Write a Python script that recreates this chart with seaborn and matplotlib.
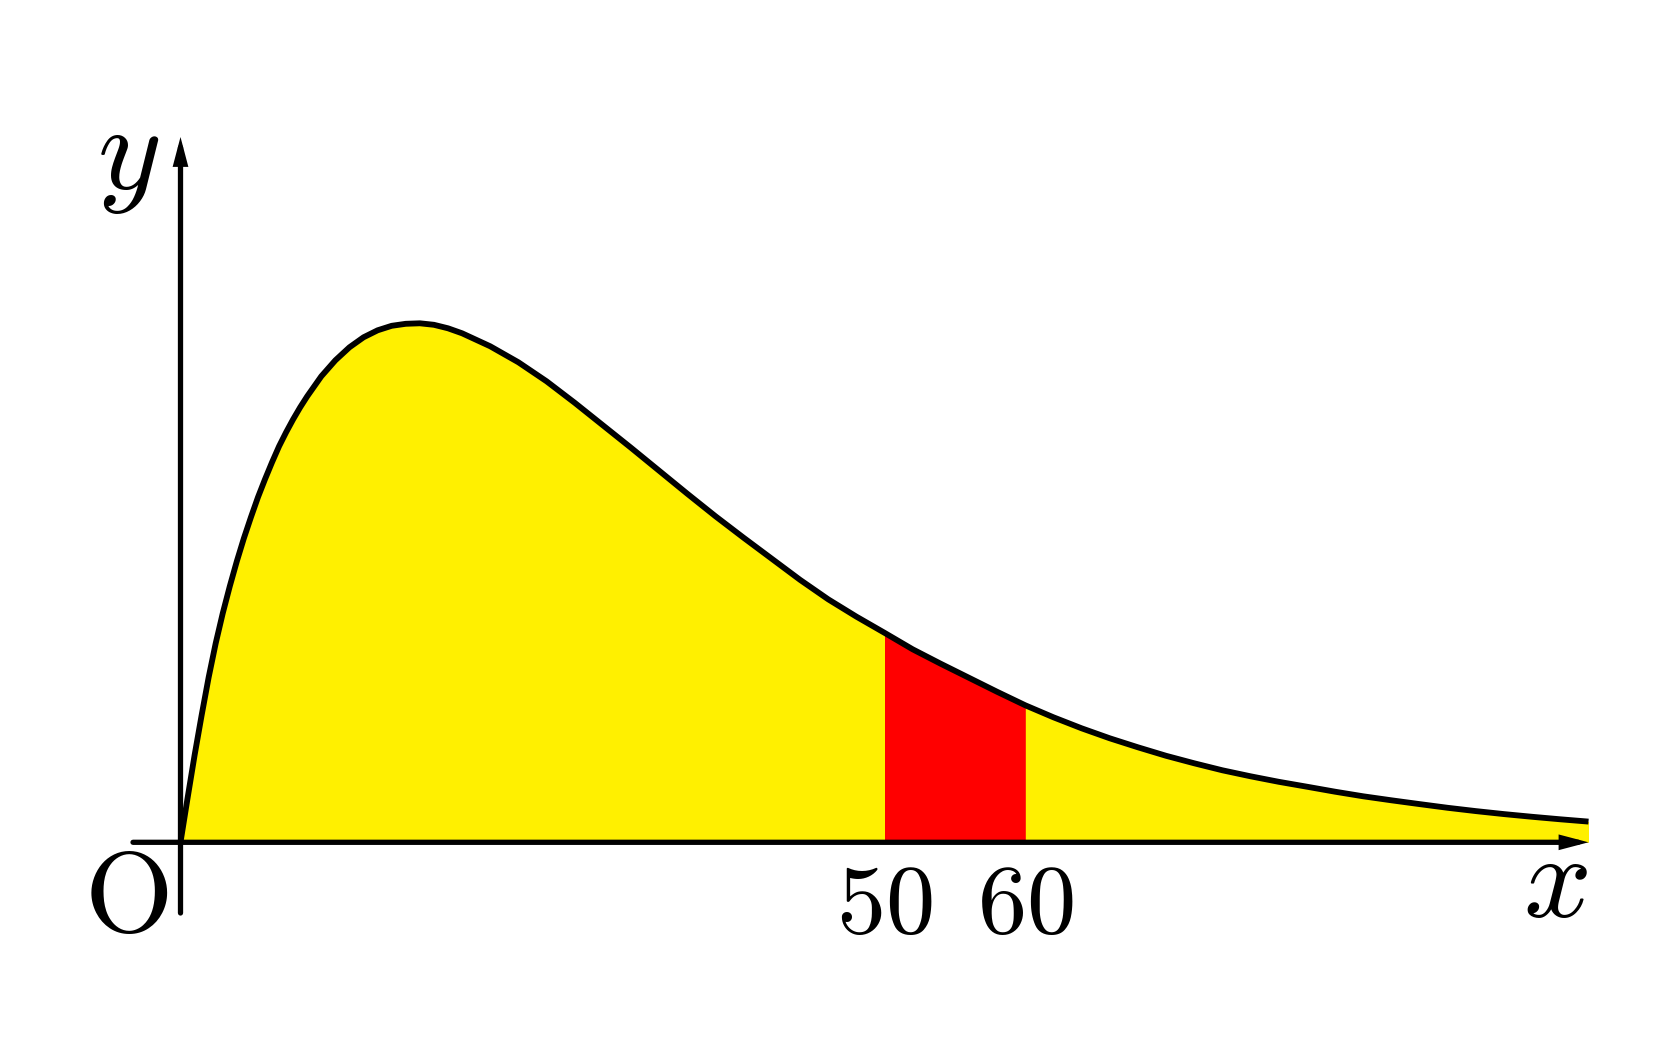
import numpy as np
import matplotlib
matplotlib.use('Agg')
import matplotlib.pyplot as plt
import seaborn as sns

# 曲线上读取的点（x：横轴刻度，y：曲线高度，图中像素单位）
x_vals = [0, 0.5, 1, 1.5, 2, 2.5, 3, 3.5, 4, 4.5, 5, 5.5, 6, 6.5, 7, 7.5, 8, 8.5, 9, 9.5,
          10, 11, 12, 13, 14, 15, 16, 17, 18, 19, 20,
          22, 24, 26, 28, 30, 32, 34, 36, 38, 40, 42, 44, 46, 48, 50,
          52, 54, 56, 58, 60, 62, 64, 66, 68, 70, 72, 74, 76, 78, 80,
          82, 84, 86, 88, 90, 92, 94, 96, 98, 100]
y_vals = [0, 44, 87, 127, 165, 199, 229, 256, 281, 304, 325, 345, 363, 380, 396, 410, 423, 435, 446, 456,
          466, 482, 495, 505, 512, 516.5, 518.5, 519, 517.5, 514, 509,
          496, 480, 461, 439.5, 417, 394.5, 371.5, 348.5, 326, 304.5, 283.5, 262.5, 243, 225.7, 209.5,
          193, 178.5, 164.5, 150.5, 137, 125, 114, 104, 95, 86.5, 79, 72, 66, 60.5, 55.6,
          50.6, 46, 42, 38.2, 34.5, 31.2, 28.2, 25.5, 23, 20.7]

# 红色区间与刻度
band = [50, 60]
tick_vals = [50, 60]
tick_labels = ['$50$', '$60$']

yellow = '#fff000'
red = '#ff0000'

sns.set_theme(style='white')
plt.rcParams['mathtext.fontset'] = 'cm'
plt.rcParams['font.family'] = ['DejaVu Sans']

fig = plt.figure(figsize=(16.54, 10.55), dpi=100)
ax = fig.add_axes([0, 0, 1, 1])

# 像素到数据坐标：原点在 (180.5, 842.3)，横轴每单位 14.08 像素
px_unit = 14.08
x0_px, y0_px = 180.5, 842.3
W, H = 1654, 1055
ax.set_xlim(-x0_px / px_unit, (W - x0_px) / px_unit)
ax.set_ylim(y0_px - H, y0_px)
ax.axis('off')

xs = np.array(x_vals, dtype=float)
ys = np.array(y_vals, dtype=float)

# 填充：整体黄色，50~60 红色
ax.fill_between(xs, 0, ys, color=yellow, lw=0, zorder=1)
mask = (xs >= band[0]) & (xs <= band[1])
ax.fill_between(xs[mask], 0, ys[mask], color=red, lw=0, zorder=2)

# 坐标轴（带箭头）
arrow = dict(arrowstyle='-|>,head_length=0.38,head_width=0.1', lw=3.8, color='black',
             shrinkA=0, shrinkB=0, mutation_scale=32, joinstyle='miter')
ax.annotate('', xy=(100, 0), xytext=(-47.5 / px_unit, 0), arrowprops=arrow, zorder=3)
ax.annotate('', xy=(0, y0_px - 137), xytext=(0, y0_px - 913), arrowprops=arrow, zorder=3)

# 曲线
sns.lineplot(x=xs, y=ys, ax=ax, color='black', lw=4.2, sort=False, estimator=None,
             zorder=4)
for ln in ax.lines:
    ln.set_solid_capstyle('butt')
    ln.set_solid_joinstyle('round')


def px_x(px):
    return (px - x0_px) / px_unit


def px_y(py):
    return y0_px - py


# 文字
ax.text(px_x(128), px_y(189), '$y$', fontsize=88, ha='center', va='baseline', color='black')
ax.text(px_x(1555), px_y(917), '$x$', fontsize=86, ha='center', va='baseline', color='black')
ax.text(px_x(126), px_y(932), r'$\mathrm{O}$', fontsize=82, ha='center', va='baseline',
        color='black')
for v, lab in zip(tick_vals, tick_labels):
    ax.text(v, px_y(933), lab, fontsize=71, ha='center', va='baseline', color='black')

fig.savefig('out.png', dpi=100, facecolor='white')
